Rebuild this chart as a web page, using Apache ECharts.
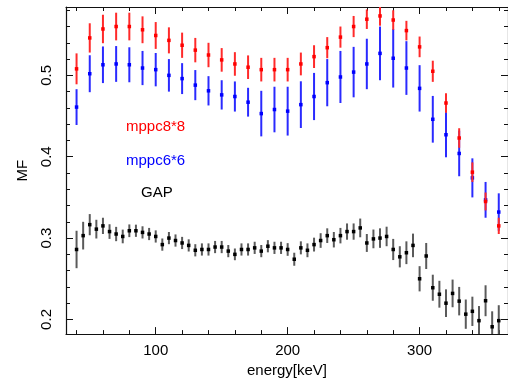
<!DOCTYPE html>
<html>
<head>
<meta charset="utf-8">
<script src="https://cdn.jsdelivr.net/npm/echarts@6/dist/echarts.min.js"></script>
<style>
  html, body { margin: 0; padding: 0; background: #fff; }
  #chart { width: 508px; height: 383px; }
</style>
</head>
<body>
<div id="chart"></div>
<script>
// energies (keV) for the two MPPC series
var mppcEnergy = [40, 50, 60, 70, 80, 90, 100, 110, 120, 130, 140, 150, 160, 170, 180, 190, 200,
  210, 220, 230, 240, 250, 260, 270, 280, 290, 300, 310, 320, 330, 340, 350, 360];
var mppc88 = [0.508, 0.546, 0.557, 0.560, 0.560, 0.556, 0.549, 0.543, 0.537, 0.531, 0.525, 0.519, 0.514,
  0.510, 0.507, 0.507, 0.507, 0.514, 0.523, 0.534, 0.547, 0.560, 0.569, 0.573, 0.568, 0.555, 0.535,
  0.505, 0.466, 0.423, 0.381, 0.345, 0.315];
var mppc88Err = [0.019, 0.018, 0.0175, 0.017, 0.017, 0.0165, 0.0165, 0.016, 0.0155, 0.015, 0.015, 0.0145, 0.0145,
  0.0145, 0.0145, 0.0145, 0.0145, 0.014, 0.014, 0.013, 0.013, 0.013, 0.012, 0.012, 0.012, 0.012, 0.0127,
  0.013, 0.012, 0.012, 0.012, 0.011, 0.010];
var mppc66 = [0.461, 0.502, 0.513, 0.514, 0.513, 0.509, 0.507, 0.500, 0.496, 0.488, 0.481, 0.476, 0.474,
  0.467, 0.453, 0.458, 0.456, 0.464, 0.474, 0.491, 0.498, 0.504, 0.514, 0.527, 0.521, 0.509, 0.484,
  0.446, 0.427, 0.404, 0.374, 0.347, 0.332];
var mppc66Err = [0.022, 0.0227, 0.0225, 0.022, 0.0215, 0.021, 0.0205, 0.020, 0.019, 0.0185, 0.018, 0.018, 0.0185,
  0.0177, 0.028, 0.028, 0.030, 0.0287, 0.029, 0.029, 0.032, 0.031, 0.031, 0.033, 0.036, 0.033, 0.0285,
  0.0287, 0.0277, 0.028, 0.024, 0.022, 0.023];

// GAP series, finer binning
var gapEnergy = [40, 45, 50, 55, 60, 65, 70, 75, 80, 85, 90, 95, 100, 105, 110, 115, 120, 125, 130, 135,
  140, 145, 150, 155, 160, 165, 170, 175, 180, 185, 190, 195, 200, 205, 210, 215, 220, 225, 230, 235,
  240, 245, 250, 255, 260, 265, 270, 275, 280, 285, 290, 295, 300, 305, 310, 315, 320, 325, 330, 335,
  340, 345, 350, 355, 360];
var gap = [0.286, 0.303, 0.3165, 0.311, 0.315, 0.308, 0.305, 0.302, 0.309, 0.309, 0.307, 0.305, 0.302,
  0.292, 0.300, 0.297, 0.294, 0.291, 0.285, 0.286, 0.286, 0.289, 0.289, 0.284, 0.280, 0.286, 0.286,
  0.288, 0.284, 0.290, 0.288, 0.288, 0.286, 0.274, 0.288, 0.285, 0.292, 0.297, 0.303, 0.298, 0.303,
  0.308, 0.308, 0.3125, 0.294, 0.299, 0.300, 0.302, 0.286, 0.277, 0.282, 0.291, 0.250, 0.278, 0.239,
  0.231, 0.220, 0.232, 0.2225, 0.2065, 0.210, 0.1985, 0.223, 0.191, 0.1985];
var gapErr = [0.023, 0.017, 0.013, 0.0115, 0.010, 0.009, 0.0088, 0.0084, 0.0078, 0.0075, 0.0075, 0.0075, 0.0075,
  0.0075, 0.0075, 0.0075, 0.0075, 0.0075, 0.0075, 0.0075, 0.0075, 0.0075, 0.0075, 0.0075, 0.0072, 0.0075, 0.0075,
  0.0075, 0.0075, 0.0075, 0.0075, 0.0075, 0.0078, 0.008, 0.008, 0.0085, 0.0085, 0.009, 0.009, 0.0095, 0.0095,
  0.010, 0.010, 0.0115, 0.011, 0.0115, 0.012, 0.012, 0.013, 0.013, 0.014, 0.0145, 0.0155, 0.016, 0.016,
  0.0165, 0.017, 0.017, 0.0175, 0.018, 0.018, 0.018, 0.019, 0.019, 0.019];

var xMajor = [100, 200, 300];
var xMinor = [40, 60, 80, 120, 140, 160, 180, 220, 240, 260, 280, 320, 340, 360];
var yMajor = [0.2, 0.3, 0.4, 0.5];
var yMinor = [0.22, 0.24, 0.26, 0.28, 0.32, 0.34, 0.36, 0.38, 0.42, 0.44, 0.46, 0.48, 0.52, 0.54, 0.56, 0.58];

var FONT = '"Liberation Sans", Arial, sans-serif';

function triples(xs, ys, es) {
  return xs.map(function (x, i) { return [x, ys[i], es[i]]; });
}

function errRender(markColor, barColor) {
  return function (params, api) {
    var x = api.value(0), y = api.value(1), e = api.value(2);
    var lo = api.coord([x, y - e]);
    var hi = api.coord([x, y + e]);
    var c = api.coord([x, y]);
    var s = 3.5;
    return {
      type: 'group',
      children: [
        { type: 'line', shape: { x1: lo[0], y1: lo[1], x2: hi[0], y2: hi[1] },
          style: { stroke: barColor, lineWidth: 2 } },
        { type: 'rect', shape: { x: c[0] - s / 2, y: c[1] - s / 2, width: s, height: s },
          style: { fill: markColor } }
      ]
    };
  };
}

function xAxisOf(pos, values, len, withLabel) {
  return {
    type: 'value', position: pos, min: 32, max: 367,
    splitLine: { show: false },
    axisLine: { show: len > 5, lineStyle: { color: '#111', width: 1.2 } },
    axisTick: { inside: true, length: len, customValues: values, lineStyle: { color: '#111' } },
    axisLabel: withLabel
      ? { customValues: values, fontSize: 15, color: '#000', margin: 9, fontFamily: FONT }
      : { show: false }
  };
}

function yAxisOf(pos, values, len, withLabel) {
  return {
    type: 'value', position: pos, min: 0.182, max: 0.584,
    splitLine: { show: false },
    axisLine: { show: len > 5, lineStyle: { color: '#111', width: 1.2 } },
    axisTick: { inside: true, length: len, customValues: values, lineStyle: { color: '#111' } },
    axisLabel: withLabel
      ? { customValues: values, fontSize: 15, color: '#000', margin: 12, rotate: 90, fontFamily: FONT }
      : { show: false }
  };
}

var xAxes = [
  xAxisOf('bottom', xMajor, 7, true),
  xAxisOf('bottom', xMinor, 4, false),
  xAxisOf('top', xMajor, 7, false),
  xAxisOf('top', xMinor, 4, false)
];
xAxes[0].name = 'energy[keV]';
xAxes[0].nameLocation = 'middle';
xAxes[0].nameGap = 25;
xAxes[0].nameTextStyle = { fontSize: 15, color: '#000', fontFamily: FONT };

var yAxes = [
  yAxisOf('left', yMajor, 7, true),
  yAxisOf('left', yMinor, 4, false),
  yAxisOf('right', yMajor, 7, false),
  yAxisOf('right', yMinor, 4, false)
];
yAxes[0].name = 'MF';
yAxes[0].nameLocation = 'middle';
yAxes[0].nameRotate = 90;
yAxes[0].nameGap = 36;
yAxes[0].nameTextStyle = { fontSize: 15, color: '#000', fontFamily: FONT };

var chart = echarts.init(document.getElementById('chart'));
chart.setOption({
  animation: false,
  backgroundColor: '#fff',
  grid: { left: 66, top: 7, width: 447, height: 334 },
  xAxis: xAxes,
  yAxis: yAxes,
  graphic: [
    { type: 'text', x: 126, y: 127, style: { text: 'mppc8*8', fill: '#ff0000', font: '15px ' + FONT, textVerticalAlign: 'middle' } },
    { type: 'text', x: 126, y: 161, style: { text: 'mppc6*6', fill: '#0000ff', font: '15px ' + FONT, textVerticalAlign: 'middle' } },
    { type: 'text', x: 141, y: 193, style: { text: 'GAP', fill: '#000', font: '15px ' + FONT, textVerticalAlign: 'middle' } }
  ],
  series: [
    { name: 'mppc6*6', type: 'custom', clip: true, renderItem: errRender('#0000ff', '#2a2aff'),
      data: triples(mppcEnergy, mppc66, mppc66Err) },
    { name: 'mppc8*8', type: 'custom', clip: true, renderItem: errRender('#ff0000', '#ff2a2a'),
      data: triples(mppcEnergy, mppc88, mppc88Err) },
    { name: 'GAP', type: 'custom', clip: true, renderItem: errRender('#000', '#5a5a5a'),
      data: triples(gapEnergy, gap, gapErr) }
  ]
});
</script>
</body>
</html>
